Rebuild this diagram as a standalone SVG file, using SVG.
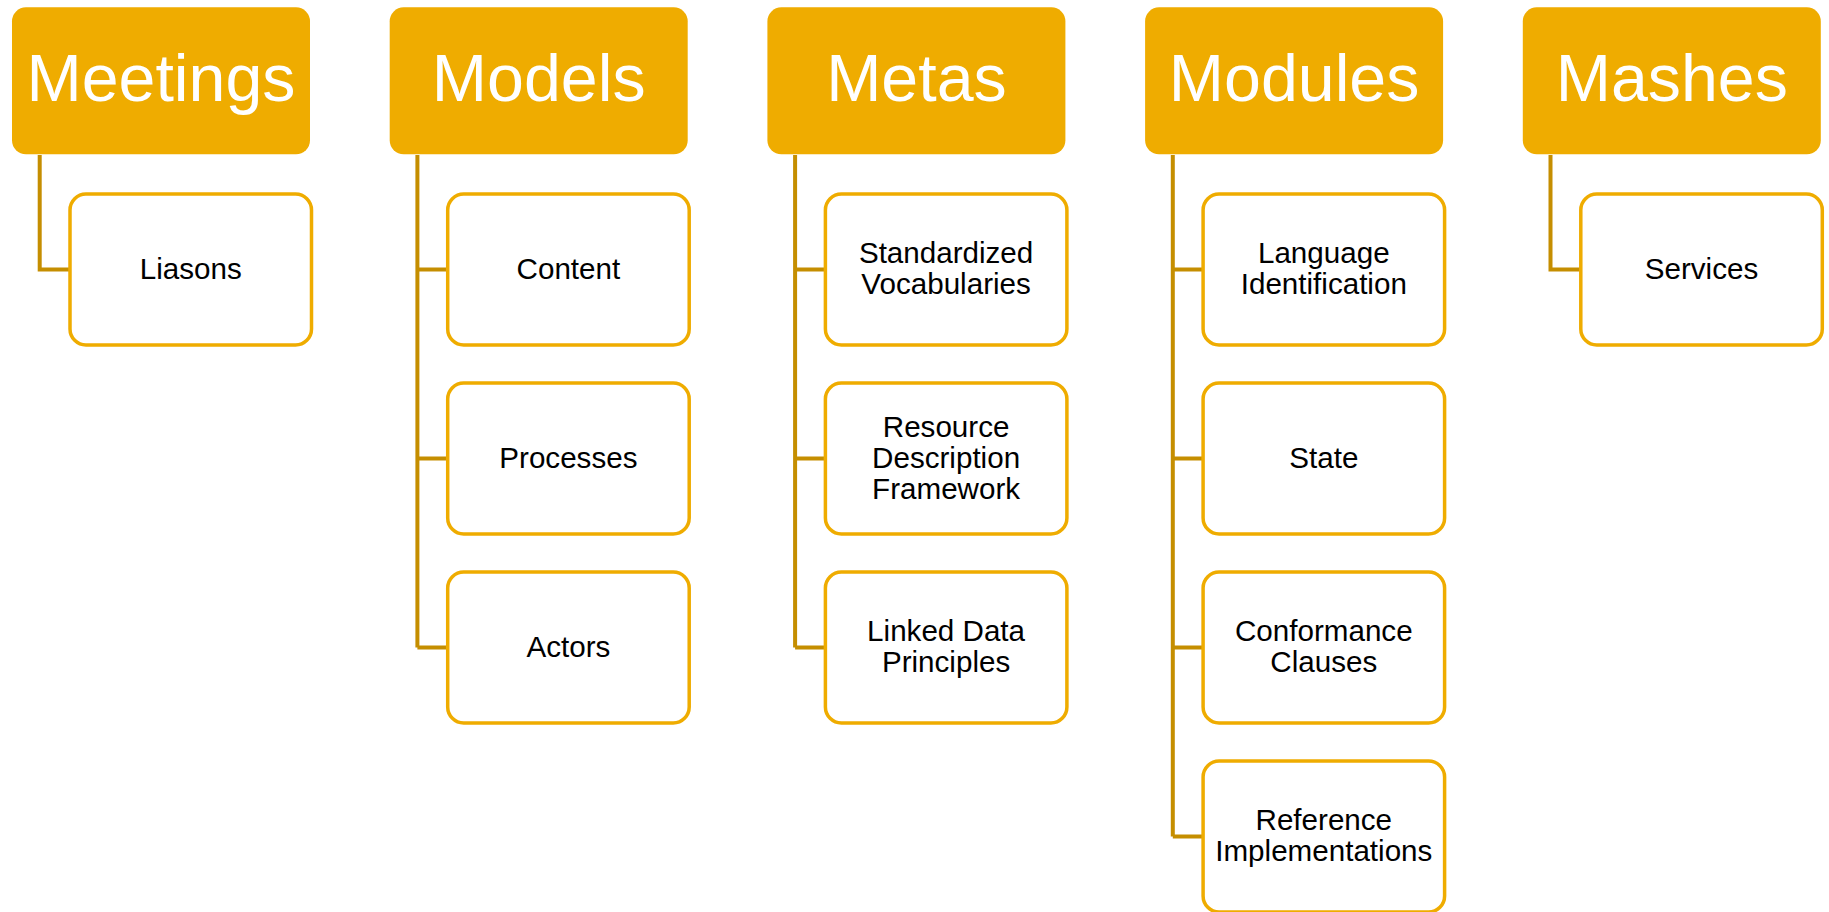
<svg xmlns="http://www.w3.org/2000/svg" width="1829" height="912" viewBox="0 0 1829 912">
<style>
.hdr{fill:#EFAC00;}
.ht{font-family:"Liberation Sans",Arial,sans-serif;font-size:66.3px;fill:#ffffff;text-anchor:middle;}
.box{fill:#ffffff;stroke:#EFAC00;stroke-width:3.5;}
.bt{font-family:"Liberation Sans",Arial,sans-serif;font-size:29.6px;fill:#000000;text-anchor:middle;}
.con{fill:none;stroke:#C58E00;stroke-width:4;}
</style>
<rect width="1829" height="912" fill="#ffffff"/>
<g id="connectors">
<path class="con" d="M39.7,155 V269.5 H70"/>
<path class="con" d="M417.4,155 V647.5 M417.4,269.5 H447.7 M417.4,458.5 H447.7 M417.4,647.5 H447.7"/>
<path class="con" d="M795.1,155 V647.5 M795.1,269.5 H825.4 M795.1,458.5 H825.4 M795.1,647.5 H825.4"/>
<path class="con" d="M1172.8,155 V836.5 M1172.8,269.5 H1203.1 M1172.8,458.5 H1203.1 M1172.8,647.5 H1203.1 M1172.8,836.5 H1203.1"/>
<path class="con" d="M1550.5,155 V269.5 H1580.8"/>
</g>
<g id="meetings"><rect class="hdr" x="12" y="7.3" width="298" height="147" rx="14"/><text class="ht" x="161" y="100.7">Meetings</text></g>
<g id="liasons"><rect class="box" x="70" y="194" width="241.5" height="151" rx="16"/><text class="bt" x="190.7" y="278.5">Liasons</text></g>
<g id="models"><rect class="hdr" x="389.7" y="7.3" width="298" height="147" rx="14"/><text class="ht" x="538.7" y="100.7">Models</text></g>
<g id="content"><rect class="box" x="447.7" y="194" width="241.5" height="151" rx="16"/><text class="bt" x="568.4" y="278.5">Content</text></g>
<g id="processes"><rect class="box" x="447.7" y="383" width="241.5" height="151" rx="16"/><text class="bt" x="568.4" y="467.5">Processes</text></g>
<g id="actors"><rect class="box" x="447.7" y="572" width="241.5" height="151" rx="16"/><text class="bt" x="568.4" y="656.5">Actors</text></g>
<g id="metas"><rect class="hdr" x="767.4" y="7.3" width="298" height="147" rx="14"/><text class="ht" x="916.4" y="100.7">Metas</text></g>
<g id="vocab"><rect class="box" x="825.4" y="194" width="241.5" height="151" rx="16"/><text class="bt" x="946.1" y="263">Standardized</text><text class="bt" x="946.1" y="294">Vocabularies</text></g>
<g id="rdf"><rect class="box" x="825.4" y="383" width="241.5" height="151" rx="16"/><text class="bt" x="946.1" y="436.5">Resource</text><text class="bt" x="946.1" y="467.5">Description</text><text class="bt" x="946.1" y="498.5">Framework</text></g>
<g id="linked"><rect class="box" x="825.4" y="572" width="241.5" height="151" rx="16"/><text class="bt" x="946.1" y="641">Linked Data</text><text class="bt" x="946.1" y="672">Principles</text></g>
<g id="modules"><rect class="hdr" x="1145.1" y="7.3" width="298" height="147" rx="14"/><text class="ht" x="1294.1" y="100.7">Modules</text></g>
<g id="langid"><rect class="box" x="1203.1" y="194" width="241.5" height="151" rx="16"/><text class="bt" x="1323.8" y="263">Language</text><text class="bt" x="1323.8" y="294">Identification</text></g>
<g id="state"><rect class="box" x="1203.1" y="383" width="241.5" height="151" rx="16"/><text class="bt" x="1323.8" y="467.5">State</text></g>
<g id="conformance"><rect class="box" x="1203.1" y="572" width="241.5" height="151" rx="16"/><text class="bt" x="1323.8" y="641">Conformance</text><text class="bt" x="1323.8" y="672">Clauses</text></g>
<g id="refimpl"><rect class="box" x="1203.1" y="761" width="241.5" height="151" rx="16"/><text class="bt" x="1323.8" y="830">Reference</text><text class="bt" x="1323.8" y="861">Implementations</text></g>
<g id="mashes"><rect class="hdr" x="1522.8" y="7.3" width="298" height="147" rx="14"/><text class="ht" x="1671.8" y="100.7">Mashes</text></g>
<g id="services"><rect class="box" x="1580.8" y="194" width="241.5" height="151" rx="16"/><text class="bt" x="1701.5" y="278.5">Services</text></g>
</svg>
